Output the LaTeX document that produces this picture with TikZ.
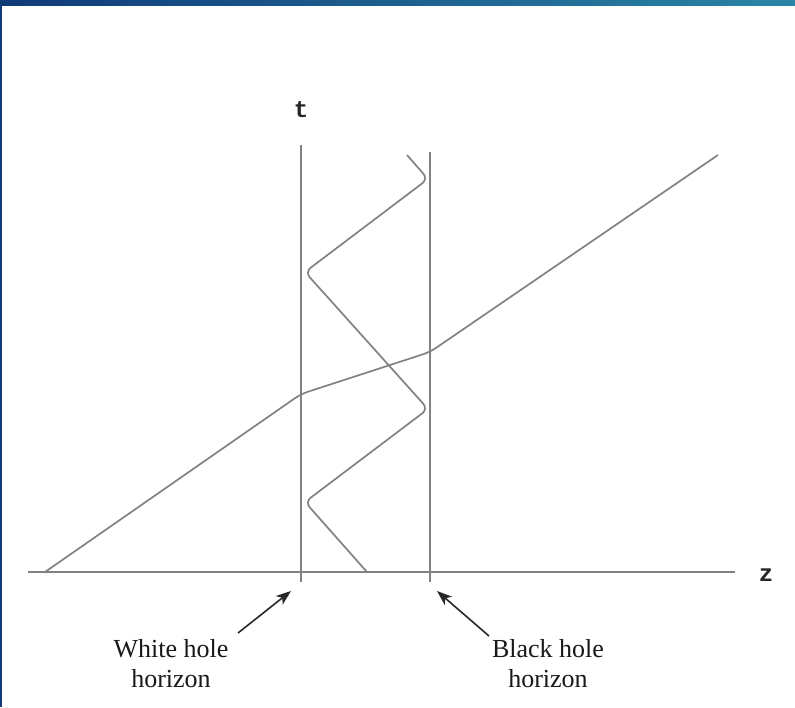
\documentclass[tikz,border=0pt]{standalone}
\usepackage{fontspec}
\setmainfont{Liberation Serif}
\newfontfamily\monof{Liberation Mono}
\usetikzlibrary{arrows.meta}
\definecolor{barL}{RGB}{16,58,120}
\definecolor{barR}{RGB}{42,133,166}
\definecolor{linegray}{RGB}{130,130,130}
\definecolor{arrowgray}{RGB}{40,40,40}
\tikzset{
  axisline/.style={draw=linegray, line width=1.6pt},
  worldline/.style={draw=linegray, line width=1.7pt, rounded corners=7pt},
  pointer/.style={draw=arrowgray, line width=1.6pt, -{Stealth[length=15pt,width=11pt,inset=4pt]}},
  lbl/.style={font=\fontsize{26}{30}\selectfont, align=center, text=black!90, inner sep=0pt},
  axlbl/.style={font=\monof\bfseries\fontsize{24}{24}\selectfont, text=black!85, inner sep=0pt}
}
\begin{document}
\begin{tikzpicture}[x=1pt,y=-1pt]
\useasboundingbox (0,0) rectangle (795,707);
\fill[white] (0,0) rectangle (795,707);
\shade[left color=barL, right color=barR] (0,0) rectangle (795,5);
\fill[barL] (0,0) rectangle (1.8,707);
% axes and horizons
\coordinate (zL) at (28,572);
\coordinate (zR) at (735,572);
\coordinate (whT) at (301,145);
\coordinate (whB) at (301,582);
\coordinate (bhT) at (430,152);
\coordinate (bhB) at (430,582);
\draw[axisline] (zL) -- (zR);
\draw[axisline] (whT) -- (whB);
\draw[axisline] (bhT) -- (bhB);
\node[axlbl] (tlab) at (301,110) {t};
\node[axlbl] (zlab) at (766,575) {z};
% world lines
\coordinate (d0) at (45,572);
\coordinate (d1) at (301,394);
\coordinate (d2) at (430,352);
\coordinate (d3) at (718,155);
\draw[worldline] (d0) -- (d1) -- (d2) -- (d3);
\coordinate (w0) at (367,572);
\coordinate (w1) at (305,502);
\coordinate (w2) at (428,409);
\coordinate (w3) at (305,272);
\coordinate (w4) at (428,179);
\coordinate (w5) at (407,155);
\draw[worldline] (w0) -- (w1) -- (w2) -- (w3) -- (w4) -- (w5);
% labels
\node[lbl] (white) at (171,664) {White hole\\horizon};
\node[lbl] (black) at (548,664) {Black hole\\horizon};
\coordinate (wtail) at (238,633);
\coordinate (wtip) at (291,591);
\coordinate (btail) at (489,636);
\coordinate (btip) at (437,591);
\draw[pointer] (wtail) -- (wtip);
\draw[pointer] (btail) -- (btip);
\end{tikzpicture}
\end{document}
